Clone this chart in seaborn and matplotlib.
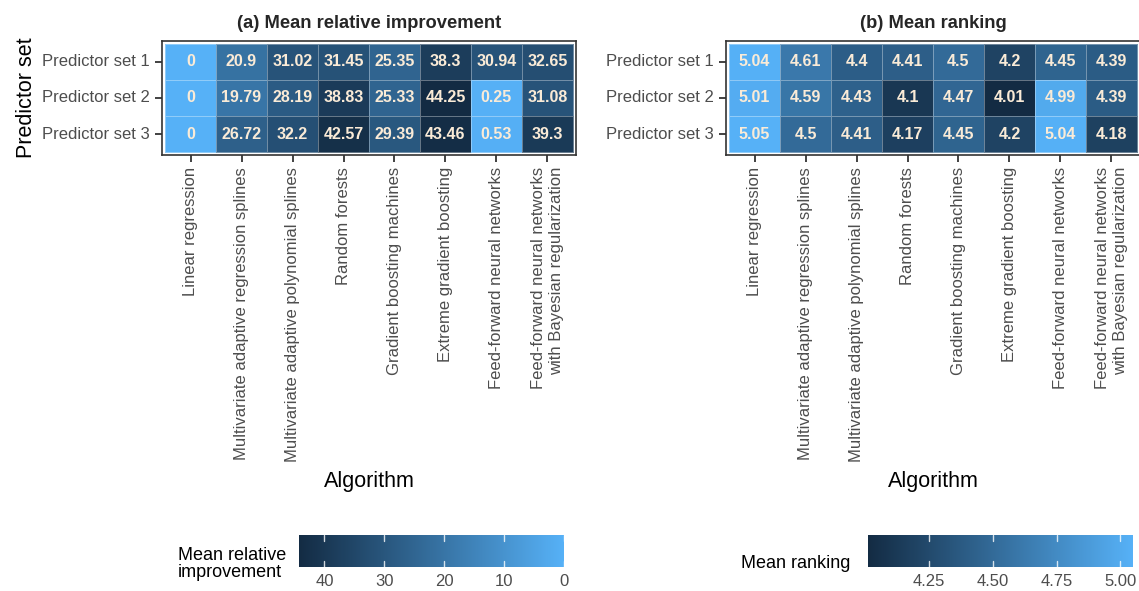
import numpy as np
import pandas as pd
import matplotlib
matplotlib.use("Agg")
import matplotlib.pyplot as plt
from matplotlib.colors import LinearSegmentedColormap
import seaborn as sns

# data
algorithms = [
    "Linear regression",
    "Multivariate adaptive regression splines",
    "Multivariate adaptive polynomial splines",
    "Random forests",
    "Gradient boosting machines",
    "Extreme gradient boosting",
    "Feed-forward neural networks",
    "Feed-forward neural networks\nwith Bayesian regularization",
]
predictor_sets = ["Predictor set 1", "Predictor set 2", "Predictor set 3"]

improvement_set1 = [0, 20.9, 31.02, 31.45, 25.35, 38.3, 30.94, 32.65]
improvement_set2 = [0, 19.79, 28.19, 38.83, 25.33, 44.25, 0.25, 31.08]
improvement_set3 = [0, 26.72, 32.2, 42.57, 29.39, 43.46, 0.53, 39.3]

ranking_set1 = [5.04, 4.61, 4.4, 4.41, 4.5, 4.2, 4.45, 4.39]
ranking_set2 = [5.01, 4.59, 4.43, 4.1, 4.47, 4.01, 4.99, 4.39]
ranking_set3 = [5.05, 4.5, 4.41, 4.17, 4.45, 4.2, 5.04, 4.18]

improvement_ticks = [40, 30, 20, 10, 0]
ranking_ticks = [4.25, 4.50, 4.75, 5.00]

sns.set_theme(style="white")
plt.rcParams["font.family"] = ["Liberation Sans", "DejaVu Sans"]

W, H = 1139, 591
fig = plt.figure(figsize=(W / 100, H / 100), dpi=100)


def box(x0, y0, x1, y1):
    # pixel box -> figure fraction rect
    return [x0 / W, 1 - y1 / H, (x1 - x0) / W, (y1 - y0) / H]


dark, light = "#132B43", "#56B1F7"
cmap_imp = LinearSegmentedColormap.from_list("imp", [light, dark])
cmap_rank = LinearSegmentedColormap.from_list("rank", [dark, light])

imp = pd.DataFrame([improvement_set1, improvement_set2, improvement_set3],
                   index=predictor_sets, columns=algorithms)
rank = pd.DataFrame([ranking_set1, ranking_set2, ranking_set3],
                    index=predictor_sets, columns=algorithms)

panels = [
    (imp, cmap_imp, "(a) Mean relative improvement", box(162, 41, 576, 155),
     box(299, 535, 564, 567), "Mean relative\nimprovement", 178, improvement_ticks, True),
    (rank, cmap_rank, "(b) Mean ranking", box(726, 41, 1140, 155),
     box(868, 535, 1133, 567), "Mean ranking", 741, ranking_ticks, False),
]

for i, (df, cmap, title, rect, crect, clabel, cx, cticks, flip) in enumerate(panels):
    ax = fig.add_axes(rect)
    sns.heatmap(df, ax=ax, cmap=cmap, cbar=False, annot=True, fmt="g",
                vmin=df.values.min(), vmax=df.values.max(),
                linewidths=0.6, linecolor=(1, 1, 1, 0.35),
                annot_kws={"color": "#FAEBD7", "fontweight": "bold", "fontsize": 11.5})
    ax.set_xlim(-0.06, 8.06)
    ax.set_ylim(3.08, -0.08)
    for s in ax.spines.values():
        s.set_visible(True)
        s.set_color("#333333")
        s.set_linewidth(1.2)
    ax.tick_params(axis="both", which="both", length=5, width=1.3, color="#333333",
                   labelsize=12, labelcolor="#4D4D4D", pad=3.5, left=True, bottom=True)
    ax.set_yticklabels(predictor_sets, rotation=0)
    ax.set_xticklabels(algorithms, rotation=90, ha="center", va="top",
                       multialignment="right")
    ax.set_title(title, fontweight="bold", fontsize=13.2, pad=9)
    ax.set_xlabel("Algorithm", fontsize=15.5, color="black", labelpad=7)
    if i == 0:
        ax.set_ylabel("Predictor set", fontsize=15.5, color="black", labelpad=4)
    else:
        ax.set_ylabel("")

    cax = fig.add_axes(crect)
    cb = fig.colorbar(ax.collections[0], cax=cax, orientation="horizontal")
    cb.outline.set_visible(False)
    cb.set_ticks(cticks)
    if flip:
        cax.invert_xaxis()
        cb.set_ticklabels([f"{t:g}" for t in cticks])
    else:
        cb.set_ticklabels([f"{t:.2f}" for t in cticks])
    cax.set_axisbelow(False)
    cax.tick_params(axis="x", direction="in", length=0,
                    top=False, bottom=True, labeltop=False, labelbottom=True,
                    labelsize=12, labelcolor="#4D4D4D", pad=5)
    # white guide ticks inside the bar, top and bottom, like ggplot's colourbar
    for t in cticks:
        cax.axvline(t, 0, 0.2, color="white", lw=1, alpha=0.8)
        cax.axvline(t, 0.8, 1, color="white", lw=1, alpha=0.8)
    fig.text(cx / W, 1 - 564 / H, clabel, fontsize=13, ha="left", va="center",
             color="black", linespacing=1.0)

fig.savefig("out.png", dpi=100)
